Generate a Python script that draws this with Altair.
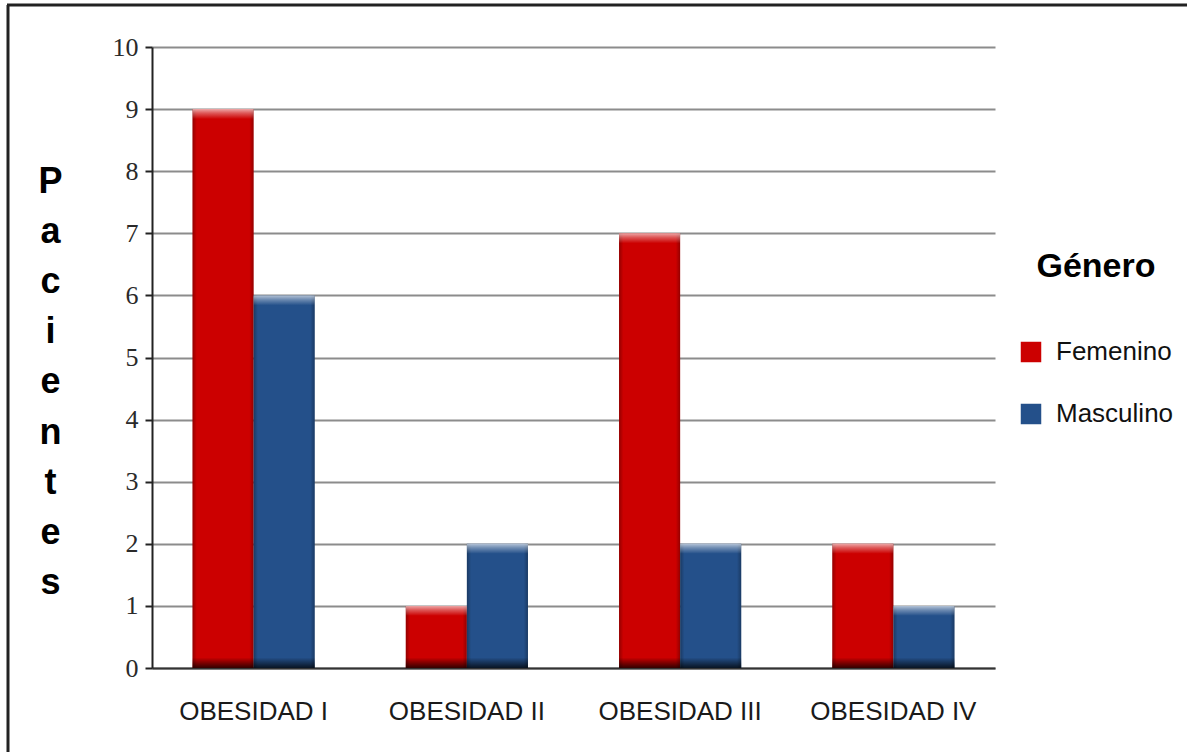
import altair as alt
import pandas as pd

categorias = ["OBESIDAD I", "OBESIDAD II", "OBESIDAD III", "OBESIDAD IV"]
femenino = [9, 1, 7, 2]
masculino = [6, 2, 2, 1]
generos = ["Femenino", "Masculino"]
colores = ["#CC0000", "#24508A"]

rows = []
for c, f, m in zip(categorias, femenino, masculino):
    rows.append({"cat": c, "Género": "Femenino", "val": f})
    rows.append({"cat": c, "Género": "Masculino", "val": m})
df = pd.DataFrame(rows)

x_enc = alt.X("cat:N", sort=categorias, title=None,
              scale=alt.Scale(paddingInner=0.427, paddingOuter=0.19),
              axis=alt.Axis(labelAngle=0, labelFont="Liberation Sans", labelFontSize=26,
                            labelColor="#1a1a1a", labelPadding=30, ticks=False,
                            domainColor="#333", domainWidth=2, grid=False))
xo = alt.XOffset("Género:N", sort=generos, scale=alt.Scale(paddingInner=0, paddingOuter=0))
y_scale = alt.Scale(domain=[0, 10], nice=False)

base = alt.Chart(df)

bars = base.mark_bar().encode(
    x=x_enc, xOffset=xo,
    y=alt.Y("val:Q", scale=y_scale,
            title=["P", "a", "c", "i", "e", "n", "t", "e", "s"],
            axis=alt.Axis(values=list(range(0, 11)), format="d", labelFont="Liberation Serif",
                          labelFontSize=26, labelColor="#2a2a2a", labelPadding=7,
                          tickSize=7, tickColor="#222", tickWidth=2,
                          domainColor="#222", domainWidth=2,
                          gridColor="#8c8c8c", gridWidth=2,
                          titleAngle=0, titleFont="Liberation Sans", titleFontSize=36,
                          titleFontWeight="bold", titleColor="#000",
                          titleLineHeight=50.2, titleAlign="center",
                          titleBaseline="alphabetic", titleX=-102, titleY=145)),
    color=alt.Color("Género:N", sort=generos,
                    scale=alt.Scale(domain=generos, range=colores),
                    legend=alt.Legend(title="Género", orient="none", legendX=866, legendY=203,
                                      titleFont="Liberation Sans", titleFontSize=34,
                                      titleFontWeight="bold", titleColor="#000",
                                      titleAnchor="middle",
                                      titlePadding=55, labelFont="Liberation Sans",
                                      labelFontSize=26, labelColor="#111", labelOffset=12,
                                      symbolType="square", symbolSize=420,
                                      symbolStrokeWidth=0, rowPadding=36)),
)

edge = base.mark_bar(fill=alt.Gradient(
    gradient="linear", x1=0, x2=1, y1=0, y2=0,
    stops=[alt.GradientStop(color="rgba(0,0,0,0.28)", offset=0),
           alt.GradientStop(color="rgba(0,0,0,0)", offset=0.07),
           alt.GradientStop(color="rgba(0,0,0,0)", offset=0.93),
           alt.GradientStop(color="rgba(0,0,0,0.28)", offset=1)])).encode(
    x=x_enc, xOffset=xo, y=alt.Y("val:Q", scale=y_scale))

top = base.transform_calculate(v2="datum.val - 0.16").mark_bar(fill=alt.Gradient(
    gradient="linear", x1=0, x2=0, y1=0, y2=1,
    stops=[alt.GradientStop(color="rgba(255,255,255,0.65)", offset=0),
           alt.GradientStop(color="rgba(255,255,255,0.35)", offset=0.4),
           alt.GradientStop(color="rgba(255,255,255,0)", offset=1)])).encode(
    x=x_enc, xOffset=xo, y=alt.Y("val:Q", scale=y_scale), y2="v2:Q")

bottom = base.transform_calculate(z="0", z2="0.17").mark_bar(fill=alt.Gradient(
    gradient="linear", x1=0, x2=0, y1=0, y2=1,
    stops=[alt.GradientStop(color="rgba(0,0,0,0)", offset=0),
           alt.GradientStop(color="rgba(0,0,0,0.75)", offset=1)])).encode(
    x=x_enc, xOffset=xo, y=alt.Y("z:Q", scale=y_scale), y2="z2:Q")

frame_left = alt.Chart(pd.DataFrame({"a": [0]})).mark_rule(color="#222", strokeWidth=3).encode(
    x=alt.value(-144), y=alt.value(-42), y2=alt.value(705))
frame_top = alt.Chart(pd.DataFrame({"a": [0]})).mark_rule(color="#222", strokeWidth=3).encode(
    x=alt.value(-145), x2=alt.value(1035), y=alt.value(-42))

chart = alt.layer(bars, edge, top, bottom, frame_left, frame_top).properties(
    width=843, height=621,
    autosize=alt.AutoSizeParams(type="none"),
    padding={"left": 152, "top": 47, "right": 192, "bottom": 84},
    background="white",
).configure_view(stroke=None)

chart.save("out.html", embed_options={"renderer": "svg", "actions": False})
